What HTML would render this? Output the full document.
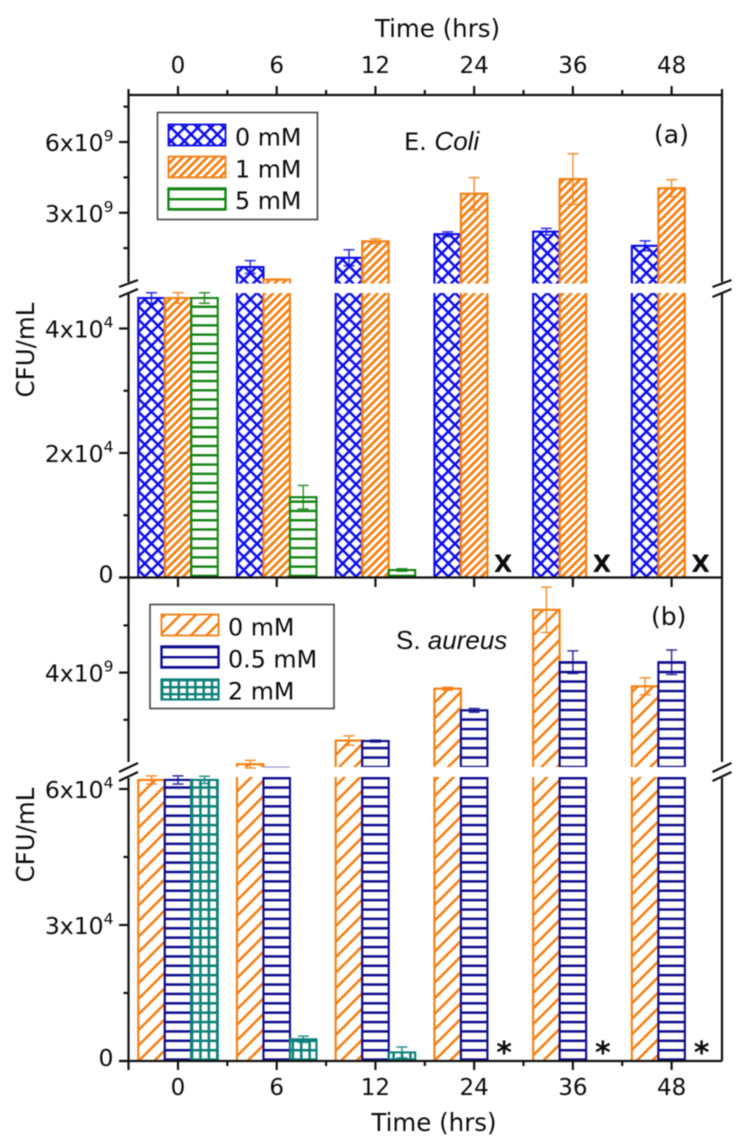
<!DOCTYPE html>
<html lang="en">
<head>
<meta charset="utf-8">
<title>CFU/mL over time</title>
<style>
html,body{margin:0;padding:0;background:#fff;width:750px;height:1143px;overflow:hidden}
svg{display:block;filter:blur(0.4px)}
text{font-family:"DejaVu Sans","Liberation Sans",sans-serif;fill:#0c0c0c}
</style>
</head>
<body>
<svg id="chart" xmlns="http://www.w3.org/2000/svg" width="750" height="1143" viewBox="0 0 750 1143">
<defs>
<pattern id="p-cross" patternUnits="userSpaceOnUse" width="13.2" height="13.2" patternTransform="translate(138.2 2.4)">
<path d="M0 0L13.2 13.2M0 13.2L13.2 0" stroke="#0c0ce8" stroke-width="2.5" fill="none"/>
</pattern>
<pattern id="p-orange-dense" patternUnits="userSpaceOnUse" width="5.7" height="5.7" patternTransform="rotate(45)">
<rect x="0" y="0" width="2.7" height="5.7" fill="#f57f12"/>
</pattern>
<pattern id="p-orange-sparse" patternUnits="userSpaceOnUse" width="11" height="11" patternTransform="rotate(45)">
<rect x="0" y="0" width="2.5" height="11" fill="#f57f12"/>
</pattern>
<pattern id="p-green" patternUnits="userSpaceOnUse" width="20" height="9.28" patternTransform="translate(0 -0.65)">
<rect x="0" y="0" width="20" height="2.4" fill="#128412"/>
</pattern>
<pattern id="p-navy" patternUnits="userSpaceOnUse" width="20" height="9.38" patternTransform="translate(0 -1.6)">
<rect x="0" y="0" width="20" height="2.5" fill="#0e0c8c"/>
</pattern>
<pattern id="p-navy-up" patternUnits="userSpaceOnUse" width="20" height="9.5" patternTransform="translate(0 5.8)">
<rect x="0" y="0" width="20" height="2.5" fill="#0e0c8c"/>
</pattern>
<pattern id="p-teal" patternUnits="userSpaceOnUse" width="8.4" height="9.38" patternTransform="translate(190.8 -1.6)">
<rect x="0" y="0" width="8.4" height="2.5" fill="#0c8078"/>
<rect x="0" y="0" width="2.5" height="9.38" fill="#0c8078"/>
</pattern>
<pattern id="p-green-legend" patternUnits="userSpaceOnUse" width="20" height="10" patternTransform="translate(0 188)">
<rect x="0" y="0" width="20" height="2.4" fill="#128412"/>
</pattern>
<pattern id="p-navy-legend" patternUnits="userSpaceOnUse" width="20" height="10" patternTransform="translate(0 646)">
<rect x="0" y="0" width="20" height="2.4" fill="#0e0c8c"/>
</pattern>
<pattern id="p-teal-legend" patternUnits="userSpaceOnUse" width="8.3" height="7" patternTransform="translate(161 679)">
<rect x="0" y="0" width="8.3" height="2.4" fill="#0c8078"/>
<rect x="0" y="0" width="2.4" height="7" fill="#0c8078"/>
</pattern>
</defs>
<g id="panel-a-layer"></g>
<g id="panel-b-layer"></g>
<g id="axes-layer"></g>

<g>
<rect x="157.5" y="112.5" width="160" height="107" fill="#fff" stroke="#444" stroke-width="1.6"/>
<rect x="168.5" y="124.5" width="57" height="21" fill="url(#p-cross)" stroke="#0c0ce8" stroke-width="1.8"/>
<text x="235" y="145.5" font-size="23.8">0 mM</text>
<rect x="168.5" y="156.5" width="57" height="21" fill="url(#p-orange-dense)" stroke="#f57f12" stroke-width="1.8"/>
<text x="235" y="177.5" font-size="23.8">1 mM</text>
<rect x="168.5" y="188.5" width="57" height="21" fill="url(#p-green-legend)" stroke="#128412" stroke-width="2.4"/>
<text x="235" y="209" font-size="23.8">5 mM</text>
</g>

<g>
<rect x="150" y="604.5" width="184" height="104" fill="#fff" stroke="#444" stroke-width="1.6"/>
<rect x="161.5" y="614.5" width="57" height="21" fill="url(#p-orange-sparse)" stroke="#f57f12" stroke-width="1.8"/>
<text x="228" y="635.5" font-size="23.8">0 mM</text>
<rect x="161.5" y="646.5" width="57" height="21" fill="url(#p-navy-legend)" stroke="#0e0c8c" stroke-width="2.4"/>
<text x="228" y="667.5" font-size="23.8">0.5 mM</text>
<rect x="161.5" y="679.5" width="57" height="20" fill="url(#p-teal-legend)" stroke="#0c8078" stroke-width="2.2"/>
<text x="228" y="699.5" font-size="23.8">2 mM</text>
</g>

<text x="437.5" y="37" font-size="24.5" text-anchor="middle">Time (hrs)</text>
<text x="434" y="1131" font-size="24.5" text-anchor="middle">Time (hrs)</text>
<text transform="translate(34 350) rotate(-90)" font-size="24.5" text-anchor="middle">CFU/mL</text>
<text transform="translate(34 835) rotate(-90)" font-size="24.5" text-anchor="middle">CFU/mL</text>
<text x="404" y="150" font-size="24">E. <tspan font-style="italic" font-family="Liberation Sans" font-size="26">Coli</tspan></text>
<text x="654" y="143" font-size="25">(a)</text>
<text x="396" y="649" font-size="26" font-family="Liberation Sans"><tspan font-family="Liberation Sans">S. </tspan><tspan font-style="italic" font-family="Liberation Sans">aureus</tspan></text>
<text x="651" y="625" font-size="25">(b)</text>
</svg>
<script>
// ---- data ----
const categories = ['0', '6', '12', '24', '36', '48'];

const ecoli0mM = [4.49e4, 0.70e9, 1.09e9, 2.09e9, 2.20e9, 1.60e9];
const ecoli0mMErr = [0.085e4, 0.27e9, 0.34e9, 0.10e9, 0.14e9, 0.21e9];
const ecoli1mM = [4.49e4, 0.17e9, 1.79e9, 3.81e9, 4.43e9, 4.04e9];
const ecoli1mMErr = [0.085e4, 0.02e9, 0.10e9, 0.68e9, 1.07e9, 0.36e9];
const ecoli5mM = [4.49e4, 1.29e4, 0.12e4, null, null, null];
const ecoli5mMErr = [0.085e4, 0.19e4, 0.02e4, 0, 0, 0];

const saureus0mM = [6.2e4, 2.06e9, 2.56e9, 3.66e9, 5.33e9, 3.71e9];
const saureus0mMErr = [0.09e4, 0.08e9, 0.10e9, 0.03e9, 0.48e9, 0.18e9];
const saureus05mM = [6.2e4, 2.0e9, 2.55e9, 3.20e9, 4.22e9, 4.22e9];
const saureus05mMErr = [0.09e4, 0, 0.02e9, 0.04e9, 0.24e9, 0.26e9];
const saureus2mM = [6.2e4, 0.48e4, 0.19e4, null, null, null];
const saureus2mMErr = [0.08e4, 0.07e4, 0.12e4, 0, 0, 0];

const ecoliLowerTicks = [0, 2e4, 4e4];
const ecoliLowerMinor = [1e4, 3e4];
const ecoliUpperTicks = [3e9, 6e9];
const ecoliUpperMinor = [1.5e9, 4.5e9, 7.5e9];
const saureusLowerTicks = [0, 3e4, 6e4];
const saureusLowerMinor = [1.5e4, 4.5e4];
const saureusUpperTicks = [4e9];
const saureusUpperMinor = [3e9, 5e9];

// ---- scales ----
const NS = 'http://www.w3.org/2000/svg';
const BREAK_VALUE = 1e6;
function xCat(i) { return 178 + i * 98.72; }
const BAR_W = 26.5;

const panelA = {
  zeroY: 577.5, lowEndY: 293, upStartY: 283.5,
  y(v) { return v >= BREAK_VALUE ? 283.5 - (v / 1e9) * 23.58 : 577.5 - (v / 2e4) * 124.5; }
};
const panelB = {
  zeroY: 1061, lowEndY: 777, upStartY: 767,
  y(v) { return v >= BREAK_VALUE ? 767 - ((v - 2e9) / 1e9) * 47.2 : 1061 - (v / 3e4) * 136; }
};

function make(tag, parent, attrs) {
  const el = document.createElementNS(NS, tag);
  for (const k in attrs) el.setAttribute(k, attrs[k]);
  parent.appendChild(el);
  return el;
}

function drawSeg(g, x, yTop, yBottom, fill, color, sw, closedTop) {
  const rect = make('rect', g, { x: x, y: yTop, width: BAR_W, height: Math.max(0, yBottom - yTop), fill: fill });
  
  
  const d = closedTop
    ? 'M' + x + ' ' + yBottom + 'L' + x + ' ' + yTop + 'L' + (x + BAR_W) + ' ' + yTop + 'L' + (x + BAR_W) + ' ' + yBottom
    : 'M' + x + ' ' + yBottom + 'L' + x + ' ' + yTop + 'M' + (x + BAR_W) + ' ' + yTop + 'L' + (x + BAR_W) + ' ' + yBottom;
  const edge = make('path', g, { d: d, fill: 'none', stroke: color, 'stroke-width': sw });
  
  
}

function drawSeries(layer, panel, name, values, errors, offset, fill, color, upFill) {
  values.forEach(function (v, i) {
    if (v === null) return;
    const g = make('g', layer, {});
    
    
    const x = xCat(i) + offset * BAR_W - BAR_W / 2;
    if (v >= BREAK_VALUE) {
      drawSeg(g, x, panel.lowEndY, panel.zeroY, fill, color, 2.1, false);
      const top = panel.y(v);
      if (top < panel.upStartY - 0.5) {
        drawSeg(g, x, top, panel.upStartY, upFill || fill, color, 2.1, true);
      } else {
        const stub = make('line', g, { x1: x, x2: x + BAR_W, y1: top, y2: top, stroke: color, 'stroke-width': 1, opacity: 0.5 });
        
        
      }
    } else {
      drawSeg(g, x, panel.y(v), panel.zeroY, fill, color, 2.1, true);
    }
    const e = errors[i];
    if (e > 0) {
      const cx = x + BAR_W / 2;
      const hi = panel.y(v + e);
      const lo = panel.y(v - e);
      const err = make('path', g, {
        d: 'M' + cx + ' ' + hi + 'L' + cx + ' ' + lo + 'M' + (cx - 5.5) + ' ' + hi + 'L' + (cx + 5.5) + ' ' + hi + 'M' + (cx - 5.5) + ' ' + lo + 'L' + (cx + 5.5) + ' ' + lo,
        fill: 'none', stroke: color, 'stroke-width': 1.5, opacity: 0.85
      });
      
      
    }
  });
}

const layerA = document.getElementById('panel-a-layer');
const layerB = document.getElementById('panel-b-layer');
const axes = document.getElementById('axes-layer');

drawSeries(layerA, panelA, 'ecoli-0mm', ecoli0mM, ecoli0mMErr, -1, 'url(#p-cross)', '#0c0ce8');
drawSeries(layerA, panelA, 'ecoli-1mm', ecoli1mM, ecoli1mMErr, 0, 'url(#p-orange-dense)', '#f57f12');
drawSeries(layerA, panelA, 'ecoli-5mm', ecoli5mM, ecoli5mMErr, 1, 'url(#p-green)', '#128412');
drawSeries(layerB, panelB, 'saureus-0mm', saureus0mM, saureus0mMErr, -1, 'url(#p-orange-sparse)', '#f57f12');
drawSeries(layerB, panelB, 'saureus-05mm', saureus05mM, saureus05mMErr, 0, 'url(#p-navy)', '#0e0c8c', 'url(#p-navy-up)');
drawSeries(layerB, panelB, 'saureus-2mm', saureus2mM, saureus2mMErr, 1, 'url(#p-teal)', '#0c8078');

// "no growth" markers wherever a highest-dose value is missing
ecoli5mM.forEach(function (v, i) {
  if (v !== null) return;
  const t = make('text', layerA, { x: xCat(i) + BAR_W + 2.5, y: 572, 'font-size': 24, 'font-weight': 'bold', 'text-anchor': 'middle' });
  
  
  t.textContent = 'X';
});
saureus2mM.forEach(function (v, i) {
  if (v !== null) return;
  const t = make('text', layerB, { x: xCat(i) + BAR_W + 3.5, y: 1063, 'font-size': 30, 'font-weight': 'bold', 'text-anchor': 'middle' });
  
  
  t.textContent = '*';
});

// ---- axes ----
function axisLine(d, width) {
  const p = make('path', axes, { d: d, fill: 'none', stroke: '#111', 'stroke-width': width || 2.2 });
  
  
}
const L = 128.5, R = 722;

axisLine('M' + L + ' 95L' + R + ' 95');
axisLine('M119 577.5L' + R + ' 577.5');
axisLine('M119 1061L' + R + ' 1061');
axisLine('M' + L + ' 89L' + L + ' 282M' + L + ' 294L' + L + ' 762M' + L + ' 778L' + L + ' 1070');
axisLine('M' + R + ' 89L' + R + ' 282M' + R + ' 294L' + R + ' 762M' + R + ' 778L' + R + ' 1061');

// break marks
[[L], [R]].forEach(function (c) {
  const x = c[0];
  axisLine('M' + (x - 9.5) + ' 287L' + (x + 9.5) + ' 280M' + (x - 9.5) + ' 297L' + (x + 9.5) + ' 289');
  axisLine('M' + (x - 9.5) + ' 772L' + (x + 9.5) + ' 763M' + (x - 9.5) + ' 781L' + (x + 9.5) + ' 772');
});

// x ticks and labels
categories.forEach(function (label, i) {
  const x = xCat(i);
  axisLine('M' + x + ' 95L' + x + ' 86');
  axisLine('M' + x + ' 577.5L' + x + ' 587');
  axisLine('M' + x + ' 1061L' + x + ' 1070');
  const mx = x + 49.36;
  if (i < categories.length - 1) {
    axisLine('M' + mx + ' 95L' + mx + ' 90');
    axisLine('M' + mx + ' 1061L' + mx + ' 1066');
  }
  const top = make('text', axes, { x: x, y: 73, 'font-size': 23, 'text-anchor': 'middle' });
  
  
  top.textContent = label;
  const bottom = make('text', axes, { x: x, y: 1095, 'font-size': 23, 'text-anchor': 'middle' });
  
  
  bottom.textContent = label;
});

// y ticks and labels
function yLabel(v, y) {
  const t = make('text', axes, { x: 113.5, y: y + (v === 0 ? 5 : 9), 'font-size': 23.5, 'text-anchor': 'end' });
  
  
  if (v === 0) { t.textContent = '0'; return; }
  const exp = Math.floor(Math.log10(v) + 1e-9);
  const mant = Math.round(v / Math.pow(10, exp));
  const a = make('tspan', t, {});
  a.textContent = mant + 'x10';
  const b = make('tspan', t, { dy: -10, 'font-size': 15.5 });
  b.textContent = String(exp);
}
function yTicks(panel, majors, minors) {
  majors.forEach(function (v) {
    const y = panel.y(v);
    axisLine('M119 ' + y + 'L' + L + ' ' + y);
    yLabel(v, y);
  });
  minors.forEach(function (v) {
    const y = panel.y(v);
    axisLine('M123.5 ' + y + 'L' + L + ' ' + y);
  });
}
yTicks(panelA, ecoliLowerTicks, ecoliLowerMinor);
yTicks(panelA, ecoliUpperTicks, ecoliUpperMinor);
yTicks(panelB, saureusLowerTicks, saureusLowerMinor);
yTicks(panelB, saureusUpperTicks, saureusUpperMinor);
</script>
</body>
</html>
